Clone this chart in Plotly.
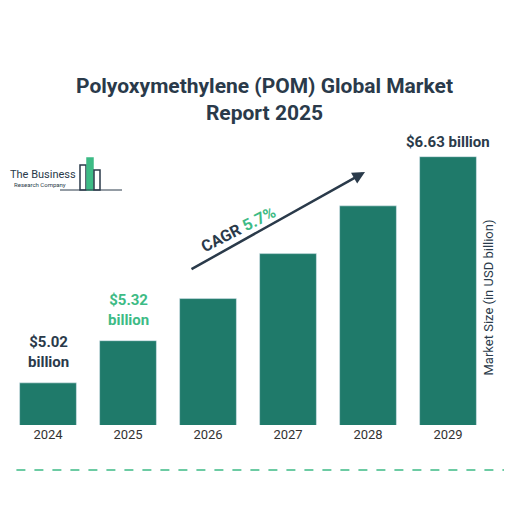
import plotly.graph_objects as go

years = ["2024", "2025", "2026", "2027", "2028", "2029"]
values = [5.02, 5.32, 5.62, 5.94, 6.28, 6.63]
bar_color = "#1f7a6a"
idx = list(range(len(years)))

fig = go.Figure(go.Bar(x=idx, y=values, marker_color=bar_color, width=0.71,
                       hoverinfo="skip"))

fig.update_layout(
    width=512, height=512, margin=dict(l=0, r=32, t=122, b=95),
    plot_bgcolor="white", paper_bgcolor="white", showlegend=False,
    font=dict(family="Roboto", color="#333"),
    xaxis=dict(range=[-0.5, 5.5], tickvals=idx, ticktext=years, showline=False, ticks="",
               showgrid=False, zeroline=False, tickfont=dict(size=13, color="#333")),
    yaxis=dict(range=[4.72, 6.82], visible=False),
)


# picture pixel -> paper coords
def px(x):
    return (x - 8) / 480


def py(y):
    return (425 - y) / 295


# title
fig.add_annotation(xref="paper", yref="paper", x=px(264), y=py(72),
                   text="<b>Polyoxymethylene (POM) Global Market<br>Report 2025</b>",
                   showarrow=False, font=dict(size=21, color="#2a3a4a"), yanchor="top")

# value labels
fig.add_annotation(x=0, y=values[0], text="<b>$5.02<br>billion</b>", showarrow=False,
                   yanchor="bottom", yshift=10, font=dict(size=15, color="#2a3a4a"))
fig.add_annotation(x=1, y=values[1], text="<b>$5.32<br>billion</b>", showarrow=False,
                   yanchor="bottom", yshift=10, font=dict(size=15, color="#3dbb85"))
fig.add_annotation(x=5, y=values[5], text="<b>$6.63 billion</b>", showarrow=False,
                   yanchor="bottom", yshift=4, font=dict(size=15, color="#2a3a4a"))

# CAGR arrow
fig.add_annotation(xref="paper", yref="paper", x=px(365), y=py(172),
                   ax=-175, ay=98, text="", showarrow=True, arrowhead=2, arrowsize=1,
                   arrowwidth=2.5, arrowcolor="#2a3a4a")
fig.add_annotation(xref="paper", yref="paper", x=px(238), y=py(200),
                   text="<b>CAGR <span style='color:#3dbb85'>5.7%</span></b>", showarrow=False,
                   textangle=-27, font=dict(size=16, color="#2a3a4a"))

# axis title on right
fig.add_annotation(xref="paper", yref="paper", x=px(497), y=py(298),
                   text="Market Size (in USD billion)", showarrow=False, textangle=-90,
                   font=dict(size=13, color="#2a3a4a"))

# logo
fig.add_annotation(xref="paper", yref="paper", x=px(8), y=py(174),
                   xanchor="left", yanchor="middle", text="The Business", showarrow=False,
                   font=dict(size=11, color="#2a3a4a"))
fig.add_annotation(xref="paper", yref="paper", x=px(12), y=py(184),
                   xanchor="left", yanchor="middle", text="Research Company", showarrow=False,
                   font=dict(size=6, color="#2a3a4a"))
for x0, x1, y0, c in [(80, 86, 165, "#2a3a4a"), (87, 93, 158, "#3dbb85"), (94, 100, 170, "#2a3a4a")]:
    fig.add_shape(type="rect", xref="paper", yref="paper", x0=px(x0), x1=px(x1),
                  y0=py(190), y1=py(y0), line=dict(color=c, width=1.5),
                  fillcolor=c if c == "#3dbb85" else "rgba(0,0,0,0)")
fig.add_shape(type="line", xref="paper", yref="paper", x0=px(60), x1=px(122),
              y0=py(190), y1=py(190), line=dict(color="#2a3a4a", width=1))

# dashed bottom line
fig.add_shape(type="line", xref="paper", yref="paper", x0=-0.02, x1=1.1,
              y0=py(470), y1=py(470), line=dict(color="#3dbb85", width=1.5, dash="dash"))

fig.write_html("out.html")
